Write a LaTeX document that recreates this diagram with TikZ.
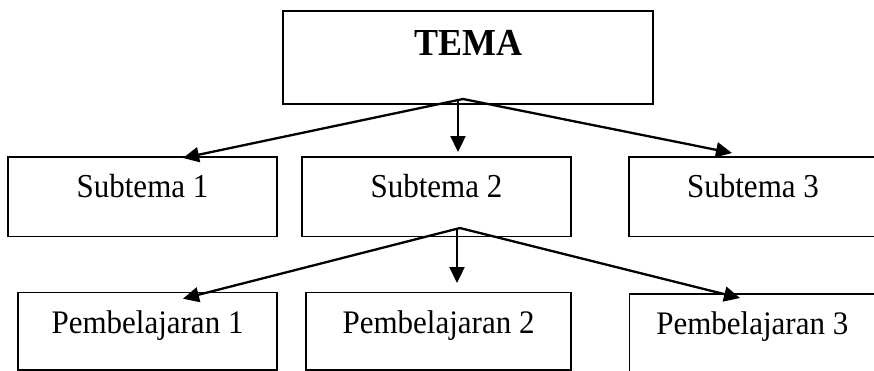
\documentclass[tikz,border=0pt]{standalone}
\usepackage{fontspec}
\setmainfont{Liberation Serif}
\usetikzlibrary{arrows.meta}
% slightly tall lettering
\newcommand{\tallText}[2]{\scalebox{1}[#1]{#2}}
\begin{document}
\begin{tikzpicture}[x=1pt,y=-1pt,
  box/.style={draw, line width=1.5pt, inner sep=0pt, anchor=north,
    font=\fontsize{31}{36}\selectfont, text height=41pt, text depth=38.5pt},
  link/.style={line width=2.3pt, -{Triangle[length=16pt,width=15pt]}}]
\path[use as bounding box] (0,0) rectangle (874,370);
\clip (0,0) rectangle (874,370);

% theme
\node[box, minimum width=370pt, text height=45pt, text depth=48pt,
  font=\bfseries\fontsize{36}{40}\selectfont] (tema) at (468,10) {\tallText{1.06}{TEMA}};

% sub-themes
\node[box, minimum width=269pt] (s1) at (142.5,156) {\tallText{1.08}{Subtema 1}};
\node[box, minimum width=269pt] (s2) at (436.4,156) {\tallText{1.08}{Subtema 2}};
\node[box, minimum width=248pt] (s3) at (753,156) {\tallText{1.08}{Subtema 3}};

% lessons
\node[box, minimum width=259pt, text depth=36.3pt] (p1) at (147.5,291.7) {\tallText{1.06}{Pembelajaran 1}};
\node[box, minimum width=265pt, text depth=36.3pt] (p2) at (438.5,291.7) {\tallText{1.06}{Pembelajaran 2}};
\node[box, minimum width=246pt, text height=40pt, text depth=45pt] (p3) at (752.3,293.3) {\tallText{1.06}{Pembelajaran 3}};

% branching points
\coordinate (ta) at ([shift={(-5,89)}]tema.north);
\coordinate (tv) at ([shift={(-10,90)}]tema.north);
\coordinate (sa) at ([shift={(23.6,72)}]s2.north);
\coordinate (sv) at ([shift={(20.6,73)}]s2.north);

% connectors
\draw[link] (ta) -- ([shift={(40.5,2)}]s1.north);
\draw[link] (tv) -- ([shift={(21.6,-4)}]s2.north);
\draw[link] (ta) -- ([shift={(-21,-3)}]s3.north);
\draw[link] (sa) -- ([shift={(35.5,7)}]p1.north);
\draw[link] (sv) -- ([shift={(18.5,-8.7)}]p2.north);
\draw[link] (sa) -- ([shift={(-12.3,4.7)}]p3.north);
\end{tikzpicture}
\end{document}
